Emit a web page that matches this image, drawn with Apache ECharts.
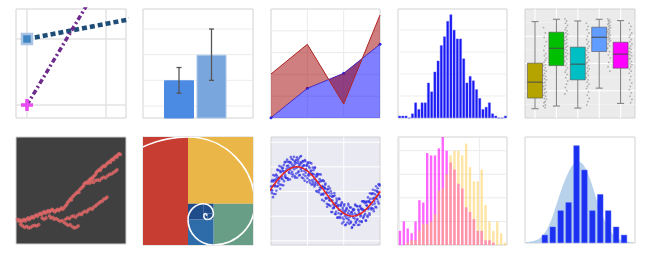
<!DOCTYPE html>
<html>
<head>
<meta charset="utf-8">
<script src="https://cdn.jsdelivr.net/npm/echarts@6/dist/echarts.min.js"></script>
<style>
  html, body { margin: 0; padding: 0; background: #ffffff; }
  #c { width: 650px; height: 253px; }
</style>
</head>
<body>
<div id="c"></div>
<script>
// ---------- data ----------
// styled lines
const lineX = [0, 1, 2];
const lineNavy = [1, 1.23, 1.46];
const linePurple = [0, 2, 4];

// bars with error bars
const barX = [1, 2];
const barMean = [2, 3];
const barLow = [1.5, 2];
const barHigh = [2.5, 4];

// two areas, the red one filled between the curves
const areaX = [0, 1, 2, 3];
const areaRed = [4.04, 6.76, 1.28, 9.45];
const areaBlue = [0.03, 2.72, 4.1, 6.76];

// single histogram (counts per bin)
const histCounts = [1, 1, 1, 0, 2, 7, 4, 7, 7, 16, 12, 21, 26, 33, 37, 44, 47, 40, 36, 36, 27, 16, 19, 17, 13, 9, 4, 5, 7, 2, 1, 0, 0, 1];

// box plot summaries
const boxLow = [8.5, 11, 9.1, 27.4, 13.4];
const boxQ1 = [18.3, 48.1, 35, 61, 45.7];
const boxMed = [32.9, 64, 49.4, 74.1, 58.6];
const boxQ3 = [50.3, 78.7, 65, 83.3, 69.5];
const boxHigh = [88.4, 90.6, 89, 90.6, 89.3];
const jitterValues = [
  [83, 78, 74, 70, 66, 62, 59, 57, 55, 53, 51, 49, 48, 46, 44, 43, 41, 39, 38, 36, 35, 33, 32, 30, 29, 27, 26, 24, 23, 21, 20, 18, 17, 15, 14, 12, 11, 9.5],
  [91, 89, 87, 85, 83, 81, 80, 78, 77, 75, 74, 72, 71, 69, 68, 66, 65, 63, 62, 60, 59, 57, 56, 54, 52, 50, 48, 46, 44, 42, 40, 37, 34, 31, 28, 25, 22],
  [87, 84, 81, 78, 75, 72, 70, 68, 66, 64, 62, 60, 58, 56, 55, 53, 51, 50, 48, 46, 45, 43, 41, 39, 37, 35, 33, 31, 29, 27, 24, 21, 18, 15, 12],
  [91, 90, 89, 88, 87, 86, 85, 84, 83, 82, 81, 80, 79, 78, 77, 76, 75, 74, 73, 72, 71, 70, 68, 66, 64, 61, 58, 55, 51, 47, 43],
  [87, 84, 81, 78, 76, 74, 72, 70, 68, 66, 64, 63, 61, 60, 58, 57, 55, 54, 52, 50, 49, 47, 45, 43, 41, 38, 35, 32, 29, 26, 23, 20, 17, 14]
];
const jitterOffset = [0.40, 0.48, 0.43, 0.52, 0.45, 0.41, 0.50, 0.44, 0.53, 0.47, 0.42, 0.49];

// fractal point cloud
const fractalPts = [
  [22,266],[26,272],[30,268],[34,274],[38,270],[42,266],[46,271],[50,266],[54,262],[58,267],[62,262],[66,258],[70,262],[74,257],[78,253],[82,257],[86,252],[90,248],[94,252],[98,247],[102,243],[106,248],[110,244],[114,240],[118,244],[122,240],[126,236],[130,240],[134,244],[138,240],[142,236],[146,240],[150,236],[154,232],[158,236],[162,231],
  [32,282],[38,286],[44,290],[50,287],[56,292],[62,290],[68,286],[74,284],[80,286],[86,282],
  [166,226],[170,222],[172,216],[176,212],[180,206],[184,208],[186,200],[190,196],[194,192],[198,188],[202,184],[206,186],[208,178],[212,174],[216,170],[220,166],[222,160],[226,156],[230,158],[234,152],[238,148],[242,144],[246,146],[248,140],[252,136],[256,132],[258,126],[262,122],[266,118],[270,120],[272,114],[276,110],[280,106],[284,108],[288,102],[292,98],[296,94],[300,96],[302,90],[306,86],[310,88],[312,82],[316,78],[320,80],[322,74],[326,70],[330,72],
  [238,158],[244,154],[250,156],[256,150],[262,148],[268,150],[274,144],[280,140],[286,142],[292,136],[298,132],[304,130],[310,126],[316,122],[320,118],
  [118,256],[122,262],[128,260],[132,266],[138,264],[144,268],[150,272],[156,270],[162,276],[168,280],[174,284],[180,282],[186,288],[192,292],[198,290],[204,286],
  [166,266],[172,262],[178,264],[184,258],[190,256],[196,260],[202,254],[208,250],[214,252],[218,246],[224,242],[230,244],[234,238],[240,234],[246,236],[250,230],[256,226],[260,222],[266,218],[270,214],[276,212],[280,206],[286,204],[290,200],
  [96,262],[102,266],[108,262]
];

// golden rectangle squares (lower-left corner and side)
const goldX = [0, 1, 1.2361, 1, 1, 1.1459, 1.1803, 1.1459, 1.1459];
const goldY = [0, 0.382, 0, 0, 0.2361, 0.2918, 0.2361, 0.2361, 0.2705];
const goldSide = [1, 0.618, 0.382, 0.2361, 0.1459, 0.0902, 0.0557, 0.0344, 0.0213];

// noisy sine samples (two interleaved sweeps) and the underlying curve
const cloudStep = 0.0314;
const cloudY = [
  .12,-.28,.11,.47,.05,-.06,.46,-.23,.41,.26,
  .64,.20,.45,.03,.64,.89,.22,.54,.43,.85,
  .11,.78,1.00,.61,.50,.95,.82,.42,1.18,.66,
  .83,.55,1.03,1.21,.47,.96,.75,1.18,.87,1.40,
  .72,1.09,.61,1.29,1.02,.90,1.21,.56,1.15,.73,
  1.39,.99,1.25,.82,.65,1.10,1.41,.91,1.15,.57,
  1.01,1.22,.69,1.06,.44,1.23,.76,.87,1.07,.54,
  1.18,.64,.74,.95,.35,.81,1.14,.45,.71,.29,
  .86,.50,.94,.26,.61,.02,.61,.72,.27,.38,
  -.04,.50,.08,.69,.15,-.10,.22,.45,-.08,-.39,
  .15,.27,-.26,-.06,-.50,.08,-.27,.20,-.55,-.17,
  -.36,.01,-.83,-.21,-.37,-.68,-.19,-.63,-.16,-.57,
  -.92,-.47,-.38,-1.06,-.61,-.88,-.29,-1.03,-.75,-.58,
  -.90,-.44,-1.06,-.74,-1.24,-.58,-.86,-1.37,-.76,-1.07,
  -.70,-1.26,-.87,-.57,-1.17,-1.03,-.65,-1.27,-.84,-1.48,
  -.93,-.77,-1.35,-.72,-1.10,-.53,-1.22,-.97,-.60,-1.12,
  -1.36,-.76,-.84,-1.21,-.58,-.96,-.68,-1.24,-.71,-.40,
  -1.02,-.75,-.47,-.90,-1.17,-.45,-.58,-.98,-.24,-.67,
  -.42,-.95,-.30,-.45,-.73,-.10,-.53,.07,-.71,-.26,
  -.49,.04,-.28,-.65,.02,-.02,-.41,.29,-.15,.24
];
const cloudY2 = [
  -.18,.39,-.33,.20,.41,.04,.22,.67,-.10,.47,
  .25,-.10,.69,.53,.20,.86,.34,.57,1.03,.28,
  .81,.54,.27,.93,.84,.25,1.07,.74,.59,1.20,
  .56,.92,1.30,.53,1.05,.79,1.20,.49,.97,1.17,
  1.32,.79,.98,.69,1.41,1.09,.62,1.24,.95,1.30,
  .56,1.16,.77,1.34,1.05,.67,1.18,1.44,.83,.95,
  1.23,.54,1.05,.83,1.28,.63,.91,1.04,.38,1.14,
  .68,1.01,.45,1.17,.69,.85,.28,.72,.97,.38,
  .69,.20,.98,.33,.41,.69,-.01,.68,.35,.05,
  .70,.16,.41,-.13,.44,-.34,.19,-.13,.42,.15,
  .11,.32,-.29,-.03,-.62,.10,-.53,-.05,-.36,.12,
  -.59,-.35,-.08,-.83,-.19,-.53,-.67,-.06,-.90,-.47,
  -.82,-.29,-.58,-1.06,-.55,-.75,-.31,-1.07,-.55,-.92,
  -.50,-1.30,-.66,-.83,-1.13,-.52,-.99,-.79,-1.34,-.67,
  -.97,-1.11,-.50,-.78,-1.31,-.93,-.64,-1.23,-.84,-1.44,
  -.70,-1.05,-.76,-1.36,-.89,-.57,-1.27,-.96,-1.15,-.60,
  -.73,-.91,-1.35,-.62,-1.01,-.71,-1.21,-.40,-.76,-1.08,
  -.40,-.97,-.78,-.41,-1.19,-.56,-.41,-1.03,-.72,-.39,
  -.88,-.07,-.47,-.66,-.08,-.68,-.29,-.07,-.80,-.39,
  -.11,-.62,.21,-.18,-.30,.13,-.02,-.49,.29,-.22
];
const sineX = [0, .314, .628, .942, 1.257, 1.571, 1.885, 2.199, 2.513, 2.827, 3.142, 3.456, 3.77, 4.084, 4.398, 4.712, 5.027, 5.341, 5.655, 5.969, 6.283];
const sineY = [0, .31, .59, .81, .95, 1, .95, .81, .59, .31, 0, -.31, -.59, -.81, -.95, -1, -.95, -.81, -.59, -.31, 0];

// two overlapping histograms
const histMagenta = [6, 10, 7, 5, 10, 19, 18, 39, 38, 38, 41, 46, 40, 35, 32, 26, 24, 16, 14, 11, 6, 6, 2, 2, 1, 0, 0, 0];
const histYellow = [0, 0, 1, 2, 2, 6, 9, 9, 10, 13, 23, 24, 30, 38, 40, 40, 38, 43, 33, 27, 27, 32, 17, 10, 6, 10, 5, 1];

// histogram with density estimate
const densBins = [1, 2, 4, 5, 12, 9, 4, 6, 4, 2, 1];
const kdeX = [-2.37, -1.2, -0.4, 0.4, 1.2, 2.0, 2.8, 3.6, 4.3, 5.0, 5.8, 6.6, 7.4, 8.2, 9.0, 9.8, 10.6, 11.38];
const kdeY = [0.1, 0.3, 0.8, 1.9, 3.9, 6.3, 8.3, 9.7, 10.0, 9.4, 7.6, 5.2, 3.1, 1.6, 0.7, 0.3, 0.15, 0.1];

// ---------- layout ----------
const panelRects = [
  [16, 9, 110, 109], [143, 9, 110, 109], [271, 9, 109, 109], [398, 9, 109, 109], [525, 9, 110, 109],
  [16, 137, 110, 107], [143, 137, 110, 108], [271, 137, 109, 108], [398, 137, 109, 108], [525, 137, 110, 106]
];

const grid = [], xAxis = [], yAxis = [], series = [];
const zip = (a, b) => a.map((v, k) => [v, b[k]]);

function addPanel(rect, xr, yr, bg, yExtra) {
  const gi = grid.length;
  grid.push({ left: rect[0], top: rect[1], width: rect[2], height: rect[3], show: true,
    backgroundColor: bg || '#ffffff', borderColor: '#d2d2d2', borderWidth: 1 });
  xAxis.push({ type: 'value', gridIndex: gi, min: xr[0], max: xr[1], show: false });
  yAxis.push(Object.assign({ type: 'value', gridIndex: gi, min: yr[0], max: yr[1], show: false }, yExtra || {}));
  return gi;
}

function addGridLines(gi, xs, ys, color, width) {
  const data = xs.map(v => [0, v]).concat(ys.map(v => [1, v]));
  series.push({
    type: 'custom', xAxisIndex: gi, yAxisIndex: gi, silent: true, z: 1, data: data,
    renderItem: function (params, api) {
      const cs = params.coordSys;
      const kind = api.value(0), v = api.value(1);
      let shape;
      if (kind === 0) {
        const px = api.coord([v, 0])[0];
        shape = { x1: px, y1: cs.y, x2: px, y2: cs.y + cs.height };
      } else {
        const py = api.coord([0, v])[1];
        shape = { x1: cs.x, y1: py, x2: cs.x + cs.width, y2: py };
      }
      return { type: 'line', shape: shape, style: { stroke: color, lineWidth: width } };
    }
  });
}

// ---------- panel 1: dotted and dash-dot lines ----------
let g = addPanel(panelRects[0], [-0.139, 1.253], [-0.197, 1.4545]);
addGridLines(g, [0, 1], [0, 1], '#e3e3e3', 1.5);
series.push({
  type: 'line', xAxisIndex: g, yAxisIndex: g, z: 3, clip: true, symbol: 'rect', showAllSymbol: true,
  data: zip(lineX, lineNavy).map((v, k) => k === 0
    ? { value: v, symbolSize: 10, itemStyle: { color: '#3f86c3', borderColor: '#a8c3e3', borderWidth: 2.5 } }
    : { value: v, symbol: 'none' }),
  lineStyle: { color: '#1e4d78', width: 4.5, type: [5, 3], cap: 'butt' }
});
series.push({
  type: 'line', xAxisIndex: g, yAxisIndex: g, z: 4, clip: true, showAllSymbol: true,
  symbol: 'path://M3.5,0H6.5V3.5H10V6.5H6.5V10H3.5V6.5H0V3.5H3.5Z',
  data: zip(lineX, linePurple).map((v, k) => k === 0
    ? { value: v, symbolSize: 12, itemStyle: { color: '#e64cf0' } }
    : { value: v, symbol: 'none' }),
  lineStyle: { color: '#6e2a8c', width: 3.5, type: [5, 2.7, 2, 2.7], cap: 'butt' }
});

// ---------- panel 2: bars with error bars ----------
g = addPanel(panelRects[1], [-0.108, 3.277], [0.533, 4.78]);
addGridLines(g, [], [1, 2, 3, 4], '#ececec', 1);
const barFill = ['#4c8be4', '#79a7dd'];
const barEdge = ['#4c8be4', '#a9c7ea'];
series.push({
  type: 'bar', xAxisIndex: g, yAxisIndex: g, z: 2, clip: true, barWidth: 30,
  data: barX.map((x, k) => ({ value: [x, barMean[k]], itemStyle: { color: barFill[k], borderColor: barEdge[k], borderWidth: 1 } }))
});
series.push({
  type: 'custom', xAxisIndex: g, yAxisIndex: g, z: 3,
  data: barX.map((x, k) => [x, barLow[k], barHigh[k]]),
  encode: { x: 0, y: [1, 2] },
  renderItem: function (params, api) {
    const a = api.coord([api.value(0), api.value(1)]);
    const b = api.coord([api.value(0), api.value(2)]);
    const st = { stroke: '#555555', lineWidth: 1.3 };
    return { type: 'group', children: [
      { type: 'line', shape: { x1: a[0], y1: a[1], x2: b[0], y2: b[1] }, style: st },
      { type: 'line', shape: { x1: a[0] - 2.5, y1: a[1], x2: a[0] + 2.5, y2: a[1] }, style: st },
      { type: 'line', shape: { x1: b[0] - 2.5, y1: b[1], x2: b[0] + 2.5, y2: b[1] }, style: st }
    ] };
  }
});

// ---------- panel 3: blue area plus red band between the curves ----------
g = addPanel(panelRects[2], [0, 3], [0, 10]);
addGridLines(g, [1, 2], [2, 4, 6, 8], '#ebebeb', 1);
series.push({
  type: 'line', xAxisIndex: g, yAxisIndex: g, z: 2, data: zip(areaX, areaBlue),
  symbol: 'circle', symbolSize: 3, itemStyle: { color: '#2a2af0' },
  lineStyle: { color: '#3434f5', width: 1 },
  areaStyle: { color: 'rgba(0,0,255,0.5)', opacity: 1 }
});
series.push({
  type: 'custom', xAxisIndex: g, yAxisIndex: g, z: 3, clip: true, data: [[0, 0]],
  renderItem: function (params, api) {
    const pts = areaX.map((x, k) => api.coord([x, areaRed[k]]));
    for (let k = areaX.length - 1; k >= 0; k--) pts.push(api.coord([areaX[k], areaBlue[k]]));
    return { type: 'polygon', shape: { points: pts }, style: { fill: 'rgba(160,0,0,0.5)' } };
  }
});
series.push({
  type: 'line', xAxisIndex: g, yAxisIndex: g, z: 4, data: zip(areaX, areaRed),
  symbol: 'none', lineStyle: { color: '#b02424', width: 1 }
});

// ---------- panel 4: histogram ----------
g = addPanel(panelRects[3], [-0.5, 33.5], [0, 49.5]);
addGridLines(g, [], [10, 20, 30, 40], '#eeeeee', 1);
series.push({
  type: 'bar', xAxisIndex: g, yAxisIndex: g, z: 2, barWidth: 2.6,
  data: histCounts.map((c, k) => [k, c]),
  itemStyle: { color: '#1717f2', borderColor: '#5e5eff', borderWidth: 0.4 }
});

// ---------- panel 5: box plots with jittered points ----------
g = addPanel(panelRects[4], [0.533, 5.673], [0, 100], '#ebebeb');
addGridLines(g, [], [12.5, 37.5, 62.5, 87.5], '#f6f6f6', 0.6);
addGridLines(g, [1, 2, 3, 4, 5], [25, 50, 75], '#ffffff', 1.1);
const boxColors = ['#b5a300', '#00be00', '#00bfc4', '#619cff', '#ff00ff'];
series.push({
  type: 'custom', xAxisIndex: g, yAxisIndex: g, z: 3,
  data: boxLow.map((v, k) => [k + 1, v, boxQ1[k], boxMed[k], boxQ3[k], boxHigh[k]]),
  encode: { x: 0, y: [1, 2, 3, 4, 5] },
  renderItem: function (params, api) {
    const x = api.value(0);
    const lo = api.coord([x, api.value(1)]), q1 = api.coord([x, api.value(2)]);
    const md = api.coord([x, api.value(3)]), q3 = api.coord([x, api.value(4)]);
    const hi = api.coord([x, api.value(5)]);
    const cx = lo[0], hw = 7.5, cw = 3.5;
    const wst = { stroke: '#7a7a7a', lineWidth: 1 };
    return { type: 'group', children: [
      { type: 'line', shape: { x1: cx, y1: lo[1], x2: cx, y2: q1[1] }, style: wst },
      { type: 'line', shape: { x1: cx, y1: hi[1], x2: cx, y2: q3[1] }, style: wst },
      { type: 'line', shape: { x1: cx - cw, y1: lo[1], x2: cx + cw, y2: lo[1] }, style: wst },
      { type: 'line', shape: { x1: cx - cw, y1: hi[1], x2: cx + cw, y2: hi[1] }, style: wst },
      { type: 'rect', shape: { x: cx - hw, y: q3[1], width: 2 * hw, height: q1[1] - q3[1] },
        style: { fill: boxColors[params.dataIndex], stroke: '#555555', lineWidth: 0.6 } },
      { type: 'line', shape: { x1: cx - hw, y1: md[1], x2: cx + hw, y2: md[1] }, style: { stroke: '#4a4a4a', lineWidth: 1 } }
    ] };
  }
});
const jitterData = [];
jitterValues.forEach((list, k) => list.forEach((v, j) => jitterData.push([k + 1 + jitterOffset[j % jitterOffset.length], v])));
series.push({
  type: 'scatter', xAxisIndex: g, yAxisIndex: g, z: 4, data: jitterData,
  symbolSize: 1.8, itemStyle: { color: 'rgba(70,70,70,0.45)' }
});

// ---------- panel 6: fractal on dark background ----------
g = addPanel(panelRects[5], [18, 347], [20, 340], '#404040', { inverse: true });
series.push({
  type: 'scatter', xAxisIndex: g, yAxisIndex: g, z: 2, data: fractalPts,
  symbolSize: 3.2, itemStyle: { color: '#e36262', borderColor: 'rgba(255,140,140,0.5)', borderWidth: 0.5 }
});

// ---------- panel 7: golden rectangle with spiral ----------
g = addPanel(panelRects[6], [0.583, 1.602], [0, 1]);
const goldColors = ['#c73d32', '#ebb648', '#699e86', '#2d6ca8', '#1f4d8c', '#1f4d8c', '#1f4d8c', '#1f4d8c', '#1f4d8c'];
const goldData = goldX.map((x, k) => [x, goldY[k], goldSide[k]]);
series.push({
  type: 'custom', xAxisIndex: g, yAxisIndex: g, z: 2, clip: true, data: goldData, encode: { x: 0, y: 1 },
  renderItem: function (params, api) {
    const x = api.value(0), y = api.value(1), s = api.value(2);
    const tl = api.coord([x, y + s]), br = api.coord([x + s, y]);
    return { type: 'rect', shape: { x: tl[0], y: tl[1], width: br[0] - tl[0], height: br[1] - tl[1] },
      style: { fill: goldColors[params.dataIndex] } };
  }
});
series.push({
  type: 'custom', xAxisIndex: g, yAxisIndex: g, z: 3, clip: true, data: goldData, encode: { x: 0, y: 1 },
  renderItem: function (params, api) {
    const x = api.value(0), y = api.value(1), s = api.value(2);
    const k = params.dataIndex % 4;
    const centers = [[x + s, y], [x, y], [x, y + s], [x + s, y + s]];
    const c = api.coord(centers[k]);
    const r = api.size([s, s])[0];
    const start = Math.PI + k * Math.PI / 2;
    return { type: 'arc', shape: { cx: c[0], cy: c[1], r: r, startAngle: start, endAngle: start + Math.PI / 2, clockwise: true },
      style: { stroke: '#ffffff', lineWidth: 1.6, fill: null } };
  }
});

// ---------- panel 8: noisy sine ----------
g = addPanel(panelRects[7], [0.107, 6.27], [-2.17, 2.21], '#eaeaf2');
addGridLines(g, [2.17, 4.22], [-2, -1, 0, 1, 2], '#ffffff', 1);
series.push({
  type: 'scatter', xAxisIndex: g, yAxisIndex: g, z: 2,
  data: cloudY.map((v, k) => [k * cloudStep, v]).concat(cloudY2.map((v, k) => [(k + 0.5) * cloudStep, v])),
  symbolSize: 2.6, itemStyle: { color: 'rgba(35,35,225,0.8)' }
});
series.push({
  type: 'line', xAxisIndex: g, yAxisIndex: g, z: 3, data: zip(sineX, sineY),
  smooth: true, symbol: 'none', lineStyle: { color: '#e8201c', width: 1.5 }
});

// ---------- panel 9: two overlapping histograms ----------
g = addPanel(panelRects[8], [-0.5, 27.5], [0, 45.8]);
addGridLines(g, [-0.17, 20.4], [10, 20, 30, 40], '#ebebeb', 1);
series.push({
  type: 'bar', xAxisIndex: g, yAxisIndex: g, z: 2, barWidth: 2.4, barGap: '-100%',
  data: histMagenta.map((c, k) => [k, c]), itemStyle: { color: 'rgba(255,0,255,0.6)' }
});
series.push({
  type: 'bar', xAxisIndex: g, yAxisIndex: g, z: 3, barWidth: 2.4, barGap: '-100%',
  data: histYellow.map((c, k) => [k, c]), itemStyle: { color: 'rgba(255,200,60,0.47)' }
});

// ---------- panel 10: histogram with density ----------
g = addPanel(panelRects[9], [-2.5, 11.38], [0, 13.04]);
series.push({
  type: 'line', xAxisIndex: g, yAxisIndex: g, z: 2, data: zip(kdeX, kdeY), smooth: 0.4,
  symbol: 'none', lineStyle: { width: 0 }, areaStyle: { color: '#b8d2ec', opacity: 1 }
});
series.push({
  type: 'bar', xAxisIndex: g, yAxisIndex: g, z: 3, barWidth: 6,
  data: densBins.map((c, k) => [k, c]),
  itemStyle: { color: '#1b30f0', borderColor: '#4a5cff', borderWidth: 0.5 }
});

const chart = echarts.init(document.getElementById('c'), null, { renderer: 'canvas' });
chart.setOption({ animation: false, grid: grid, xAxis: xAxis, yAxis: yAxis, series: series });
</script>
</body>
</html>
